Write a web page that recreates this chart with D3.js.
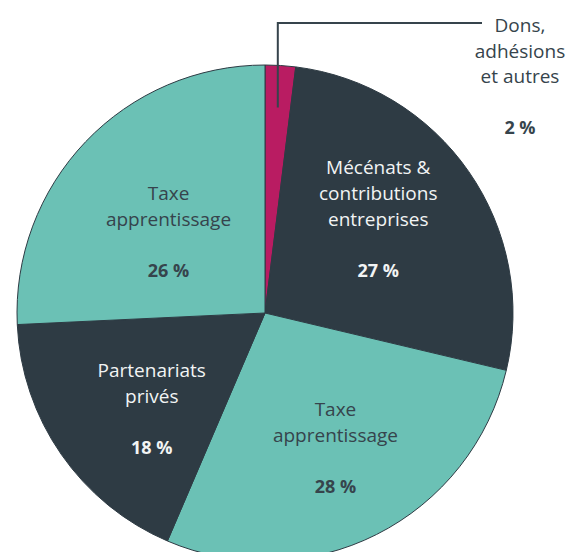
<!DOCTYPE html>
<html>
<head>
  <meta charset="UTF-8">
  <style>
    body { margin: 0; background: #fff; }
    svg { display: block; font-family: "Open Sans", Lato, sans-serif; }
  </style>
  <script src="https://d3js.org/d3.v7.min.js"></script>
</head>
<body>
<div id="pie_chart"></div>
<script>
  // data, clockwise from 12 o'clock
  var labels = [
    ["Dons,", "adhésions", "et autres"],
    ["Mécénats &", "contributions", "entreprises"],
    ["Taxe", "apprentissage"],
    ["Partenariats", "privés"],
    ["Taxe", "apprentissage"]
  ];
  var values = [2, 27, 28, 18, 26];
  var pctText = ["2 %", "27 %", "28 %", "18 %", "26 %"];

  var fills = ["#b91c62", "#2e3b44", "#6bc1b5", "#2e3b44", "#6bc1b5"];
  var textCols = ["#36444c", "#f2f4f4", "#36444c", "#f2f4f4", "#36444c"];
  // hand nudges of the label blocks from the arc centroid
  var nudge = [[0, 0], [-10, -8], [3, 2], [10, 11], [12, 23]];

  var width = 570, height = 552;
  var cx = 265, cy = 313, radius = 248;

  var svg = d3.select("#pie_chart")
    .append("svg")
      .attr("width", width)
      .attr("height", height);

  var g = svg.append("g")
    .attr("transform", "translate(" + cx + "," + cy + ")");

  var pie = d3.pie().sort(null).value(function(d) { return d; });
  var arcs = pie(values);

  var arc = d3.arc().innerRadius(0).outerRadius(radius);
  var labelArc = d3.arc().innerRadius(150).outerRadius(150);
  var dotArc = d3.arc().innerRadius(206).outerRadius(206);   // leader start

  g.selectAll("path.slice")
    .data(arcs)
    .enter()
    .append("path")
    .attr("class", "slice")
    .attr("d", arc)
    .attr("fill", function(d, i) { return fills[i]; })
    .attr("stroke", "#2e3b44")
    .attr("stroke-width", 1);

  // labels inside the big slices
  var lineH = 26, pctGap = 51;
  arcs.forEach(function(d, i) {
    if (i === 0) return;
    var c = labelArc.centroid(d);
    var x = c[0] + nudge[i][0];
    var lines = labels[i];
    var blockH = (lines.length - 1) * lineH + pctGap;
    var top = c[1] - blockH / 2 + 6 + nudge[i][1];
    var t = g.append("text")
      .attr("text-anchor", "middle")
      .attr("fill", textCols[i])
      .style("font-size", "19px");
    lines.forEach(function(s, k) {
      t.append("tspan").attr("x", x).attr("y", top + k * lineH).text(s);
    });
    g.append("text")
      .attr("x", x)
      .attr("y", top + (lines.length - 1) * lineH + pctGap)
      .attr("text-anchor", "middle")
      .attr("fill", textCols[i])
      .style("font-size", "18px")
      .style("font-weight", "bold")
      .text(pctText[i]);
  });

  // small slice: leader line + outside label
  var p = dotArc.centroid(arcs[0]);
  var elbowY = 23 - cy, endX = 482 - cx;
  g.append("path")
    .attr("d", "M" + p[0] + "," + p[1] + "V" + elbowY + "H" + endX)
    .attr("fill", "none")
    .attr("stroke", "#36444c")
    .attr("stroke-width", 2);

  var lx = 520 - cx;
  var t0 = g.append("text")
    .attr("text-anchor", "middle")
    .attr("fill", "#36444c")
    .style("font-size", "19px");
  labels[0].forEach(function(s, k) {
    t0.append("tspan").attr("x", lx).attr("y", 32 - cy + k * 25.5).text(s);
  });
  g.append("text")
    .attr("x", lx)
    .attr("y", 134 - cy)
    .attr("text-anchor", "middle")
    .attr("fill", "#36444c")
    .style("font-size", "18px")
    .style("font-weight", "bold")
    .text(pctText[0]);
</script>
</body>
</html>
